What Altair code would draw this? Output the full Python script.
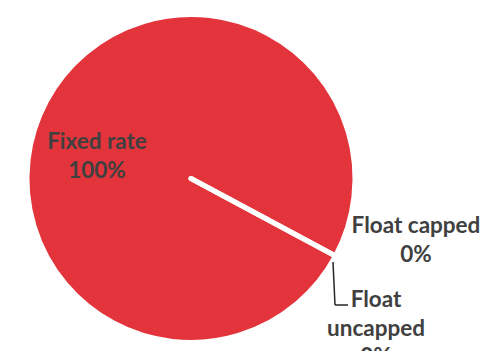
import math

import altair as alt
import pandas as pd

# Interest-rate mix of the portfolio
categories = ["Fixed rate", "Float capped", "Float uncapped"]
shares = [100, 0, 0]

df = pd.DataFrame({"category": categories, "share": shares})

RED = "#E4343B"
INK = "#404040"
CX, CY, R = 191, 178.5, 164
START = math.radians(118.2)

base = alt.Chart(df)

# Pie: slices stacked clockwise from START; white borders separate slices
pie = base.mark_arc(
    outerRadius=R, stroke="white", strokeWidth=5, strokeJoin="round"
).encode(
    theta=alt.Theta("share:Q", stack=True,
                    scale=alt.Scale(range=[START, START + 2 * math.pi])),
    detail="category:N",
    order=alt.Order("category:N"),
    x=alt.value(CX),
    y=alt.value(CY),
    color=alt.value(RED),
)


def slice_label(cat, x, y, wrap=False):
    name = "replace(datum.category, ' ', '\\n')" if wrap else "datum.category"
    return base.transform_filter(alt.datum.category == cat).transform_calculate(
        label=name + " + '\\n' + datum.share + '%'"
    ).mark_text(
        font="Lato", fontWeight="bold", fontSize=22.5, color=INK,
        lineBreak="\n", lineHeight=28.5, align="center", baseline="middle",
    ).encode(
        x=alt.value(x), y=alt.value(y), text="label:N"
    )


uncapped = base.transform_filter(alt.datum.category == "Float uncapped")
leader_down = uncapped.mark_rule(color="#262626", strokeWidth=1.5).encode(
    x=alt.value(333), y=alt.value(262), x2=alt.value(335), y2=alt.value(305)
)
leader_across = uncapped.mark_rule(color="#262626", strokeWidth=1.5).encode(
    x=alt.value(335), y=alt.value(305), x2=alt.value(348), y2=alt.value(305)
)

chart = alt.layer(
    pie,
    leader_down,
    leader_across,
    slice_label("Fixed rate", 97, 142),
    slice_label("Float capped", 416, 226),
    slice_label("Float uncapped", 376, 300, wrap=True),
).properties(
    width=489, height=351, autosize="none", padding=0
).configure_view(stroke=None)

chart.save("out.html", embed_options={"renderer": "svg", "actions": False})
